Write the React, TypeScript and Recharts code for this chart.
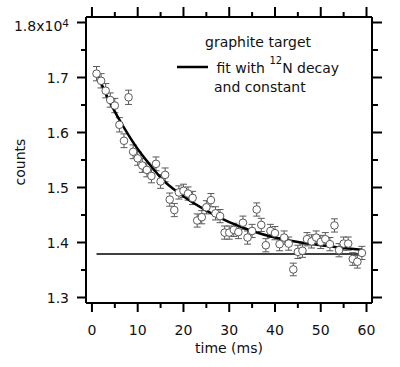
import { ComposedChart, Line, Scatter, ErrorBar, XAxis, YAxis, Label } from "recharts";

const FONT = "'DejaVu Sans', Verdana, sans-serif";
const COLOR_PT = "#5a5a5a";
const FS = 14;

// measured counts (x10^4) vs time in ms
const TIME = [
  1, 2, 3, 4, 5, 6, 7, 8, 9, 10, 11, 12, 13, 14, 15, 16, 17, 18, 19, 20,
  21, 22, 23, 24, 25, 26, 27, 28, 29, 30, 31, 32, 33, 34, 35, 36, 37, 38, 39, 40,
  41, 42, 43, 44, 45, 46, 47, 48, 49, 50, 51, 52, 53, 54, 55, 56, 57, 58, 59,
];
const COUNTS = [
  1.707, 1.694, 1.676, 1.659, 1.649, 1.614, 1.585, 1.664, 1.565, 1.553,
  1.540, 1.532, 1.521, 1.543, 1.511, 1.523, 1.478, 1.459, 1.491, 1.494,
  1.489, 1.481, 1.440, 1.446, 1.464, 1.477, 1.453, 1.448, 1.418, 1.418,
  1.423, 1.419, 1.436, 1.409, 1.421, 1.460, 1.432, 1.395, 1.421, 1.417,
  1.397, 1.409, 1.398, 1.351, 1.383, 1.385, 1.406, 1.402, 1.409, 1.401,
  1.406, 1.397, 1.431, 1.386, 1.398, 1.398, 1.370, 1.365, 1.381,
];
const ERR = [
  0.013, 0.013, 0.013, 0.013, 0.013, 0.013, 0.0125, 0.013, 0.0125, 0.0125,
  0.0125, 0.0125, 0.0125, 0.0125, 0.0125, 0.0125, 0.012, 0.012, 0.012, 0.012,
  0.012, 0.012, 0.012, 0.012, 0.012, 0.012, 0.012, 0.012, 0.012, 0.012,
  0.012, 0.012, 0.012, 0.012, 0.012, 0.012, 0.012, 0.012, 0.012, 0.012,
  0.012, 0.012, 0.012, 0.0115, 0.012, 0.012, 0.012, 0.012, 0.012, 0.012,
  0.012, 0.012, 0.012, 0.012, 0.012, 0.012, 0.0115, 0.0115, 0.012,
];

// fit curve
const FIT_T = [1, 3, 5, 7, 10, 13, 15, 20, 25, 30, 35, 40, 45, 50, 55, 59];
const FIT_V = [1.710, 1.671, 1.638, 1.609, 1.570, 1.538, 1.518, 1.484, 1.458, 1.437, 1.421, 1.409, 1.401, 1.395, 1.390, 1.387];

// constant term
const CONST_T = [1, 59.6];
const CONST_V = [1.379, 1.379];

const X_TICKS = [0, 5, 10, 15, 20, 25, 30, 35, 40, 45, 50, 55, 60];
const Y_TICKS = [1.3, 1.35, 1.4, 1.45, 1.5, 1.55, 1.6, 1.65, 1.7, 1.75, 1.8];

const points = TIME.map((t, i) => ({ t, v: COUNTS[i], err: ERR[i] }));
const fit = FIT_T.map((t, i) => ({ t, v: FIT_V[i] }));
const constant = CONST_T.map((t, i) => ({ t, v: CONST_V[i] }));

const isMajorX = (v: number) => v % 10 === 0;
const isMajorY = (v: number) => Math.abs(v * 10 - Math.round(v * 10)) < 1e-6;

function BottomTick({ x, y, payload }: any) {
  const major = isMajorX(payload.value);
  return (
    <g>
      <line x1={x} x2={x} y1={y} y2={y + (major ? 9 : 5)} stroke="#000" strokeWidth={2} />
      {major && (
        <text x={x} y={y + 32} textAnchor="middle" fontSize={FS} fontFamily={FONT} fill="#111">
          {payload.value}
        </text>
      )}
    </g>
  );
}

function TopTick({ x, y, payload }: any) {
  const major = isMajorX(payload.value);
  return <line x1={x} x2={x} y1={y} y2={y - (major ? 10 : 5)} stroke="#000" strokeWidth={2} />;
}

function LeftTick({ x, y, payload }: any) {
  const v = payload.value;
  const major = isMajorY(v);
  return (
    <g>
      <line x1={x - (major ? 9 : 5)} x2={x} y1={y} y2={y} stroke="#000" strokeWidth={2} />
      {major && v < 1.75 && (
        <text x={x - 17} y={y + 5} textAnchor="end" fontSize={FS} fontFamily={FONT} fill="#111">
          {v.toFixed(1)}
        </text>
      )}
      {major && v > 1.75 && (
        <text x={x - 17} y={y + 8} textAnchor="end" fontSize={FS} fontFamily={FONT} fill="#111">
          1.8x10
          <tspan dy={-3.5} fontSize={10.5}>4</tspan>
        </text>
      )}
    </g>
  );
}

function RightTick({ x, y, payload }: any) {
  const major = isMajorY(payload.value);
  return <line x1={x} x2={x + (major ? 10 : 6)} y1={y} y2={y} stroke="#000" strokeWidth={2} />;
}

function Dot({ cx, cy }: any) {
  return <circle cx={cx} cy={cy} r={3.8} fill="#fff" stroke={COLOR_PT} strokeWidth={1} />;
}

export default function App() {
  const axisLine = { stroke: "#000", strokeWidth: 2 };
  return (
    <div style={{ position: "absolute", left: 0, top: 0, width: 400, height: 367, background: "#fff" }}>
      <ComposedChart width={400} height={367} margin={{ top: 0, right: 0, bottom: 0, left: 0 }}>
        <XAxis
          xAxisId="b"
          dataKey="t"
          type="number"
          domain={[-1.3, 61.2]}
          allowDataOverflow
          ticks={X_TICKS}
          interval={0}
          height={64}
          tickSize={0}
          tickMargin={0}
          axisLine={axisLine}
          tickLine={false}
          tick={<BottomTick />}
        >
          <Label
            content={({ viewBox }: any) => (
              <text
                x={viewBox.x + viewBox.width / 2}
                y={viewBox.y + 50}
                textAnchor="middle"
                fontSize={FS}
                fontFamily={FONT}
                fill="#111"
              >
                time (ms)
              </text>
            )}
          />
        </XAxis>
        <XAxis
          xAxisId="t"
          orientation="top"
          dataKey="t"
          type="number"
          domain={[-1.3, 61.2]}
          allowDataOverflow
          ticks={X_TICKS}
          interval={0}
          height={17}
          tickSize={0}
          tickMargin={0}
          axisLine={axisLine}
          tickLine={false}
          tick={<TopTick />}
        />
        <YAxis
          yAxisId="l"
          type="number"
          domain={[1.29, 1.81]}
          allowDataOverflow
          ticks={Y_TICKS}
          interval={0}
          width={86}
          tickSize={0}
          tickMargin={0}
          axisLine={axisLine}
          tickLine={false}
          tick={<LeftTick />}
        >
          <Label
            content={({ viewBox }: any) => (
              <text
                transform={`translate(${viewBox.x + 25}, ${viewBox.y + viewBox.height / 2 + 2}) rotate(-90)`}
                textAnchor="middle"
                fontSize={FS}
                fontFamily={FONT}
                fill="#111"
              >
                counts
              </text>
            )}
          />
        </YAxis>
        <YAxis
          yAxisId="r"
          orientation="right"
          type="number"
          domain={[1.29, 1.81]}
          allowDataOverflow
          ticks={Y_TICKS}
          interval={0}
          width={28}
          tickSize={0}
          tickMargin={0}
          axisLine={axisLine}
          tickLine={false}
          tick={<RightTick />}
        />

        <Line
          xAxisId="b"
          yAxisId="l"
          data={constant}
          dataKey="v"
          stroke="#000"
          strokeWidth={1.5}
          dot={false}
          isAnimationActive={false}
        />
        <Scatter
          xAxisId="b"
          yAxisId="l"
          data={points}
          dataKey="v"
          shape={<Dot />}
          isAnimationActive={false}
        >
          <ErrorBar dataKey="err" direction="y" width={3.5} stroke={COLOR_PT} strokeWidth={1} />
        </Scatter>
        <Line
          xAxisId="b"
          yAxisId="l"
          data={fit}
          dataKey="v"
          type="monotone"
          stroke="#000"
          strokeWidth={2.5}
          dot={false}
          isAnimationActive={false}
        />
      </ComposedChart>

      {/* legend box */}
      <svg
        width={400}
        height={367}
        style={{ position: "absolute", left: 0, top: 0, pointerEvents: "none" }}
        fontFamily={FONT}
        fontSize={FS}
        fill="#111"
      >
        <text x={205} y={46.5}>graphite target</text>
        <line x1={177} x2={208} y1={67} y2={67} stroke="#000" strokeWidth={2.5} />
        <text x={216.5} y={73}>
          fit with{" "}
          <tspan dy={-9} fontSize={10}>12</tspan>
          <tspan dy={9}>N decay</tspan>
        </text>
        <text x={214} y={91.5}>and constant</text>
      </svg>
    </div>
  );
}
